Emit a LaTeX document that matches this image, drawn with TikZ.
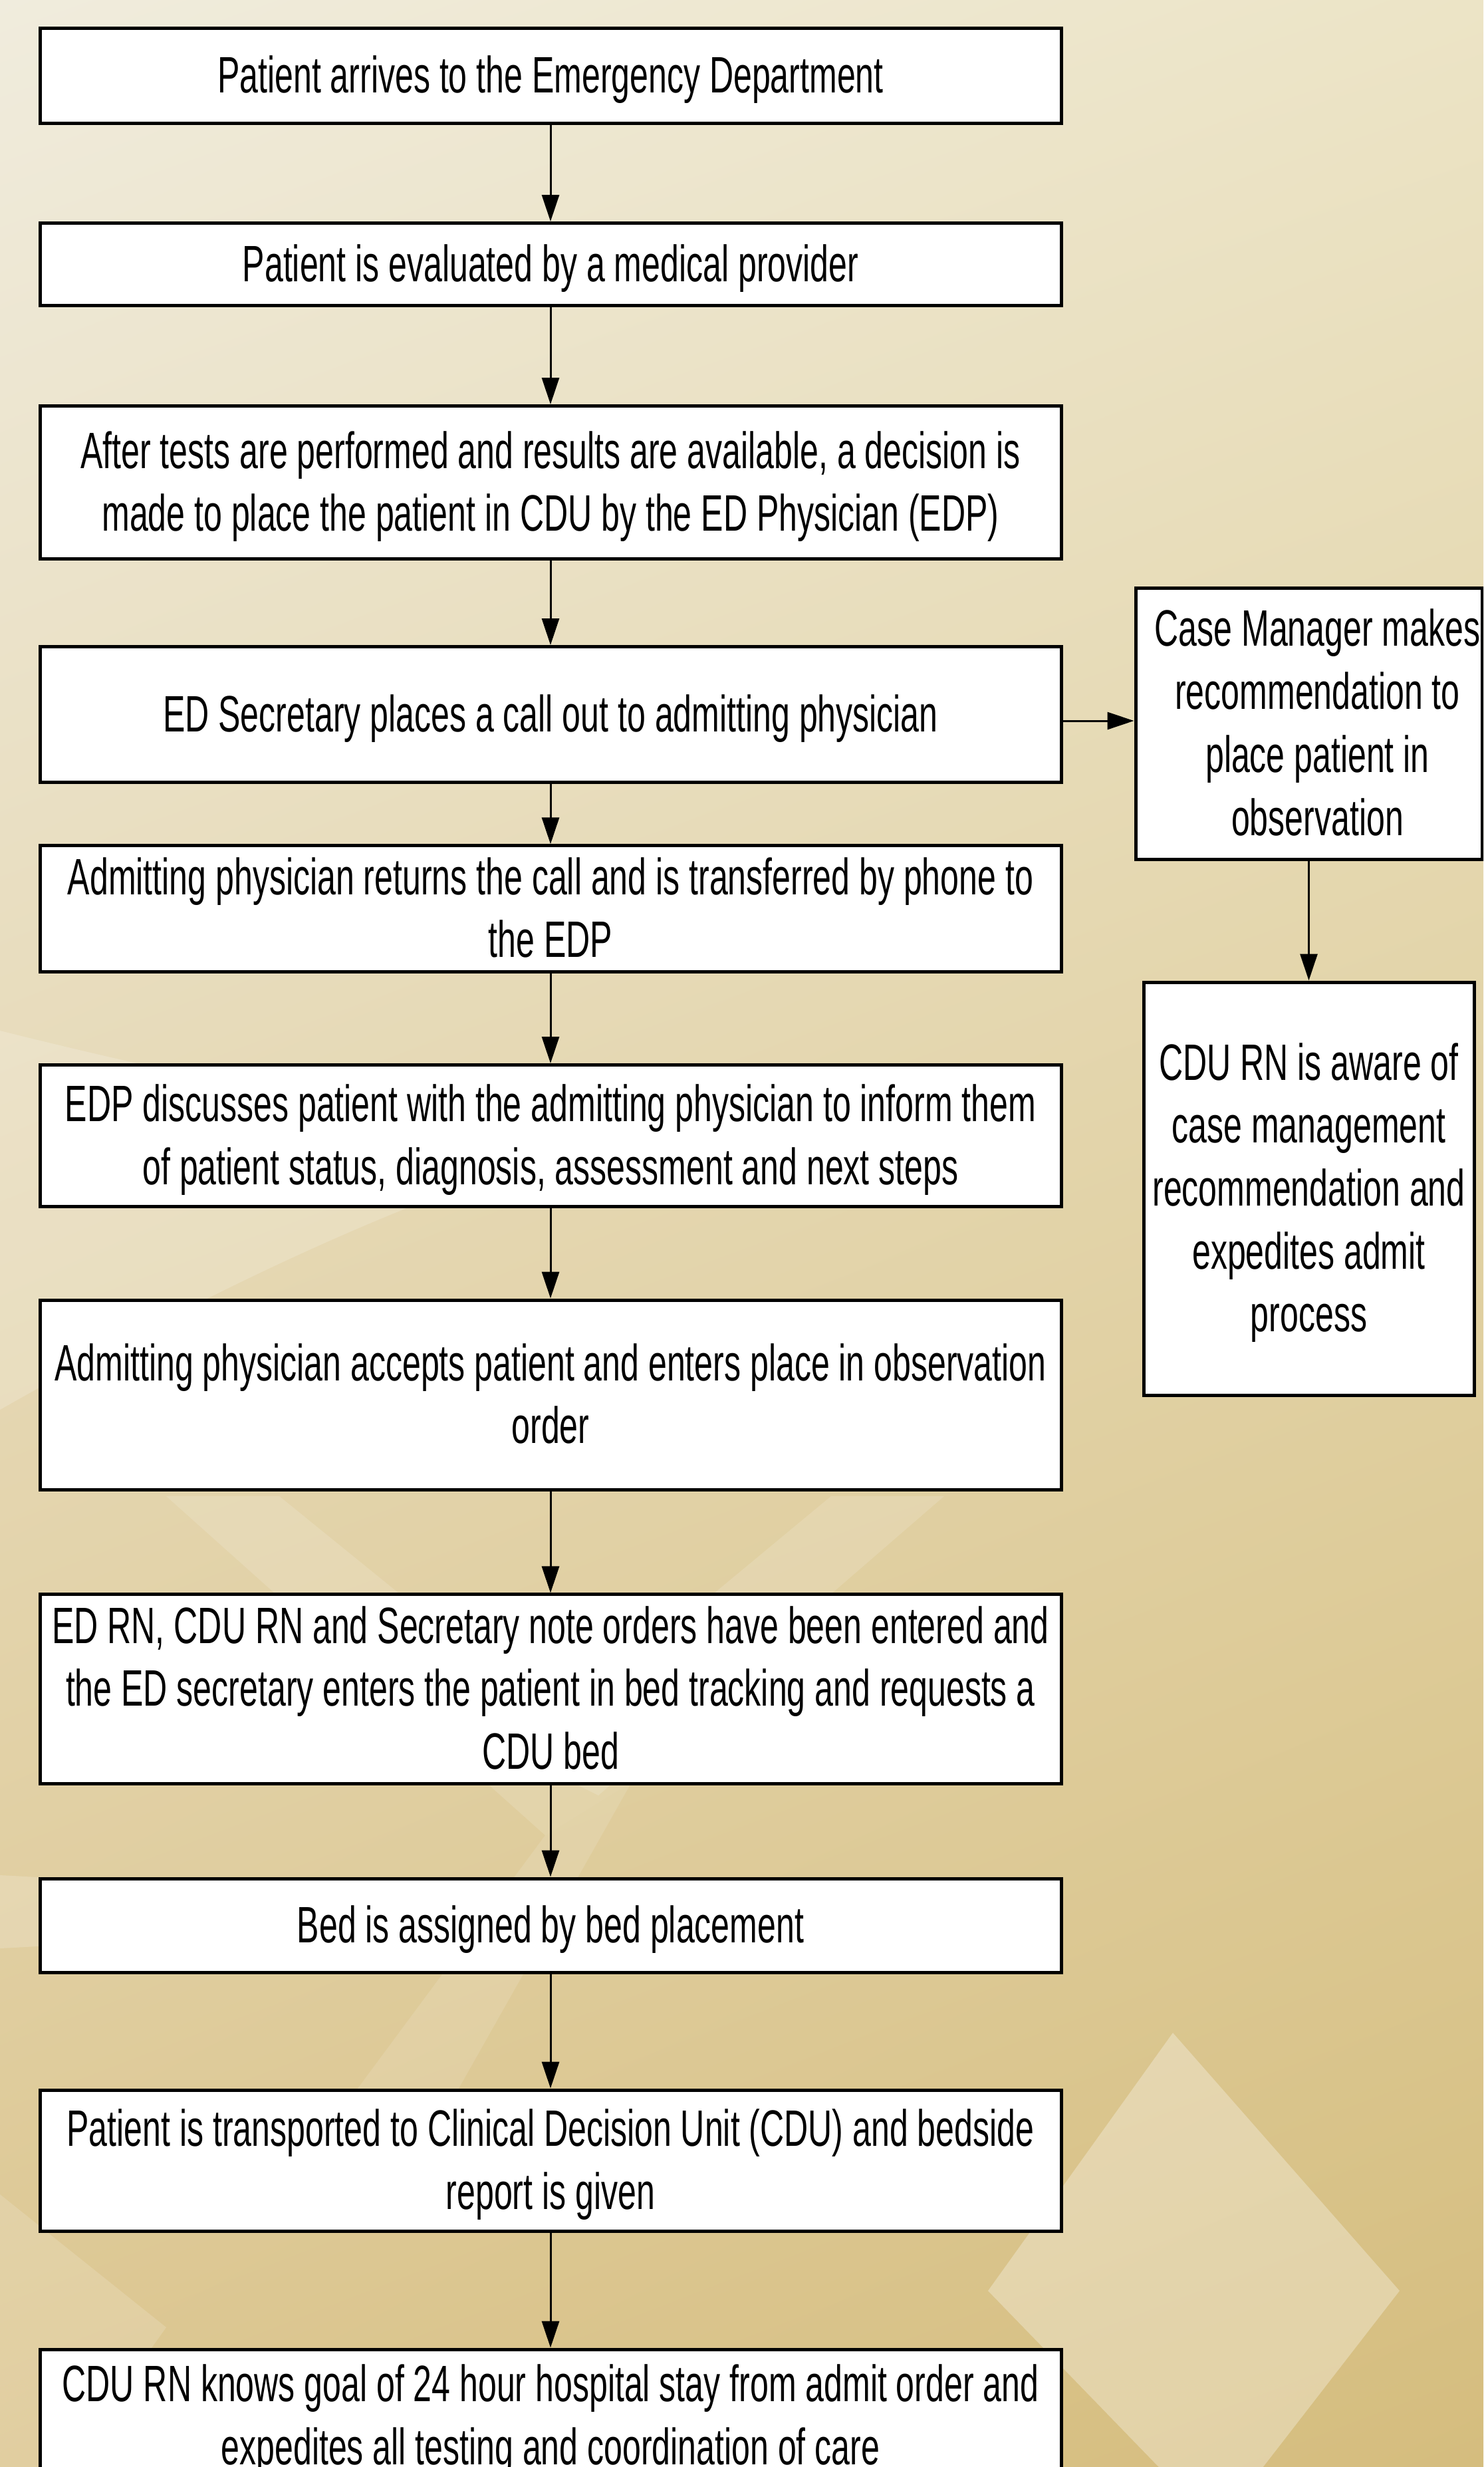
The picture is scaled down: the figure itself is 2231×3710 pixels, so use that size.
\documentclass[tikz,border=0pt]{standalone}
\usepackage{fontspec}
\setmainfont{Liberation Sans}
\usetikzlibrary{arrows.meta,shadings}
\newcommand{\sqtext}[1]{\raisebox{-7pt}[\height][\depth]{\scalebox{0.65}[1]{\begin{tabular}{@{}c@{}}#1\end{tabular}}}}
\definecolor{bgUL}{HTML}{F0ECDD}
\definecolor{bgUR}{HTML}{ECE4C6}
\definecolor{bgLL}{HTML}{DCC690}
\definecolor{bgLR}{HTML}{D5BD7E}
\begin{document}
\begin{tikzpicture}[x=1pt,y=1pt,
  flowbox/.style={draw=black, line width=5pt, fill=white, inner sep=0pt,
    minimum width=1536pt, font=\fontsize{77}{94.7}\selectfont},
  sidebox/.style={draw=black, line width=5pt, fill=white, inner sep=0pt,
    font=\fontsize{77}{94.7}\selectfont},
  conn/.style={line width=3pt, -{Triangle[length=40pt,width=26pt]}},
  lightshape/.style={fill=white, opacity=0.2, draw=none}]
\useasboundingbox (0,0) rectangle (2231,-3710);
\clip (0,0) rectangle (2231,-3710);
% background
\shade[upper left=bgUL, upper right=bgUR, lower left=bgLL, lower right=bgLR]
  (0,0) rectangle (2231,-3710);
\fill[lightshape, opacity=0.18] (0,-1550) .. controls (400,-1650) and (700,-1700) .. (950,-1700)
  .. controls (600,-1800) and (300,-1950) .. (0,-2120) -- cycle;
\fill[lightshape, opacity=0.18] (0,-2820) .. controls (200,-2830) and (400,-2850) .. (560,-2870)
  .. controls (400,-2900) and (200,-2920) .. (0,-2930) -- cycle;
\fill[lightshape, opacity=0.14] (250,-2250) -- (420,-2250) -- (950,-2680) -- (820,-2760) -- cycle;
\fill[lightshape, opacity=0.14] (1250,-2250) -- (1420,-2250) -- (900,-2700) -- (780,-2640) -- cycle;
\fill[lightshape, opacity=0.12] (820,-2760) -- (950,-2680) -- (600,-3300) -- (420,-3300) -- cycle;
\fill[lightshape, opacity=0.3] (1764,-3057) -- (2105,-3445) -- (1830,-3800) -- (1486,-3445) -- cycle;
\fill[lightshape, opacity=0.15] (0,-3300) -- (250,-3500) -- (100,-3710) -- (0,-3710) -- cycle;

% main column
\node[flowbox, minimum height=143pt] (b1) at (828,-113.5)
  {\sqtext{Patient arrives to the Emergency Department}};
\node[flowbox, minimum height=124pt] (b2) at (828,-397.5)
  {\sqtext{Patient is evaluated by a medical provider}};
\node[flowbox, minimum height=230pt] (b3) at (828,-725.5)
  {\sqtext{After tests are performed and results are available, a decision is\\made to place the patient in CDU by the ED Physician (EDP)}};
\node[flowbox, minimum height=204pt] (b4) at (828,-1074.5)
  {\sqtext{ED Secretary places a call out to admitting physician}};
\node[flowbox, minimum height=178pt] (b5) at (828,-1366.5)
  {\sqtext{Admitting physician returns the call and is transferred by phone to\\the EDP}};
\node[flowbox, minimum height=213pt] (b6) at (828,-1708)
  {\sqtext{EDP discusses patient with the admitting physician to inform them\\of patient status, diagnosis, assessment and next steps}};
\node[flowbox, minimum height=285pt] (b7) at (828,-2097.5)
  {\sqtext{Admitting physician accepts patient and enters place in observation\\order}};
\node[flowbox, minimum height=284pt] (b8) at (828,-2540)
  {\sqtext{ED RN, CDU RN and Secretary note orders have been entered and\\the ED secretary enters the patient in bed tracking and requests a\\CDU bed}};
\node[flowbox, minimum height=141pt] (b9) at (828,-2895.5)
  {\sqtext{Bed is assigned by bed placement}};
\node[flowbox, minimum height=212pt] (b10) at (828,-3249)
  {\sqtext{Patient is transported to Clinical Decision Unit (CDU) and bedside\\report is given}};
\node[flowbox, minimum height=200pt] (b11) at (828,-3633)
  {\sqtext{CDU RN knows goal of 24 hour hospital stay from admit order and\\expedites all testing and coordination of care}};

% side column
\node[sidebox, minimum width=521pt, minimum height=408pt] (cm) at (1968.5,-1088)
  {\hspace*{26pt}\sqtext{Case Manager makes\\recommendation to\\place patient in\\observation}};
\node[sidebox, minimum width=497pt, minimum height=621pt] (cdu) at (1968.5,-1787.5)
  {\sqtext{CDU RN is aware of\\case management\\recommendation and\\expedites admit\\process}};

% connectors
\draw[conn] (b1) -- (b2);
\draw[conn] (b2) -- (b3);
\draw[conn] (b3) -- (b4);
\draw[conn] (b4) -- (b5);
\draw[conn] (b5) -- (b6);
\draw[conn] (b6) -- (b7);
\draw[conn] (b7) -- (b8);
\draw[conn] (b8) -- (b9);
\draw[conn] (b9) -- (b10);
\draw[conn] (b10) -- (b11);
\coordinate (hy) at (0,-1084);
\draw[conn] (b4.east |- hy) -- (cm.west |- hy);
\draw[conn] (cm) -- (cdu);
\end{tikzpicture}
\end{document}
